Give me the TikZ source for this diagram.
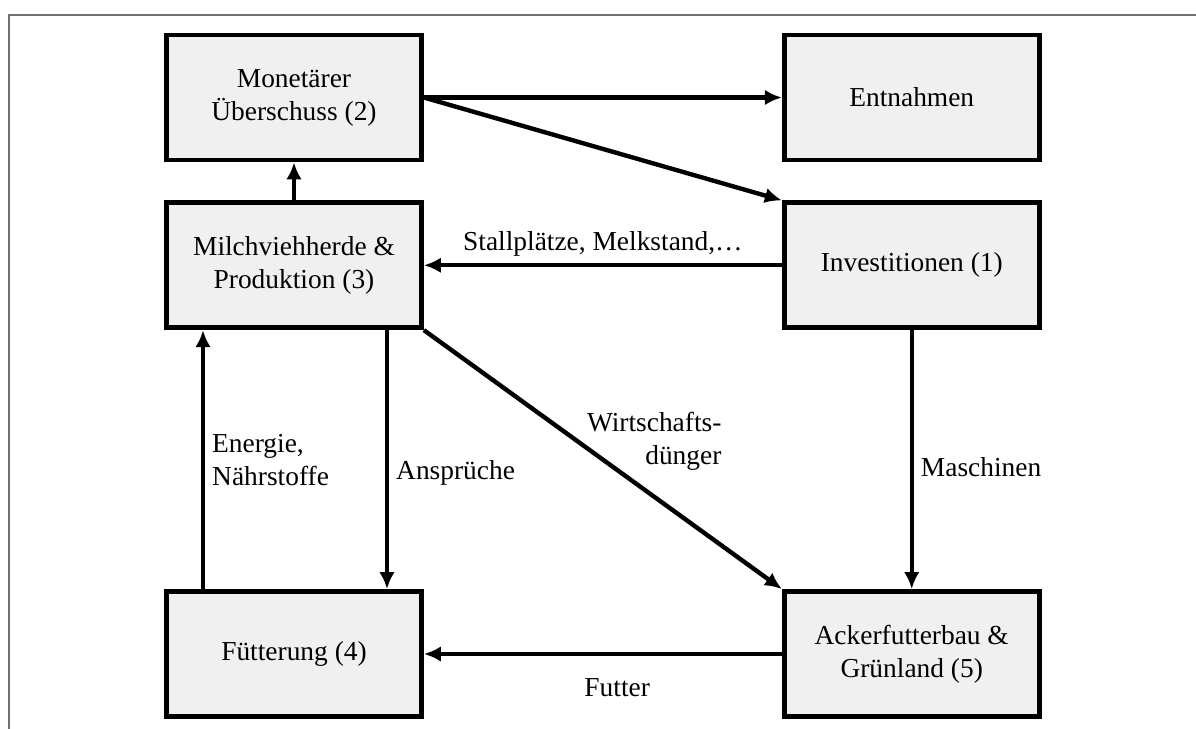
\documentclass[tikz,border=0pt]{standalone}
\usepackage{fontspec}
\setmainfont{Liberation Serif}
\usepackage{xcolor}
\usepackage{tikz}
\usetikzlibrary{arrows.meta, positioning, calc}

\definecolor{boxfill}{HTML}{F0F0F0}
\definecolor{framegray}{HTML}{707070}

\begin{document}
\begin{tikzpicture}[
        font=\fontsize{15.6}{18.8}\selectfont,
        box/.style={rectangle, draw, line width=2.7pt, fill=boxfill, minimum width=5.1cm, minimum height=2.5cm, align=center},
        flow/.style={-{Latex[length=3.4mm, width=3.1mm]}, line width=2.5pt},
        lbl/.style={inner sep=4pt}
    ]
        \useasboundingbox (0,0) rectangle (23.92,-14.58);
        \draw[framegray, line width=0.7pt] (23.92,-0.30) -- (0.18,-0.30) -- (0.18,-14.58);

        \node[box] (mon) at (5.88,-1.95) {Monetärer\\Überschuss (2)};
        \node[box, right=7.16cm of mon] (ent) {Entnahmen};
        \node[box, below=0.76cm of mon] (milch) {Milchviehherde \&\\Produktion (3)};
        \node[box, right=7.16cm of milch] (inv) {Investitionen (1)};
        \node[box, below=5.18cm of milch] (fuet) {Fütterung (4)};
        \node[box, right=7.16cm of fuet] (acker) {Ackerfutterbau \&\\Grünland (5)};

        \draw[flow] (milch) -- (mon);
        \draw[flow] (mon.east) -- (ent.west);
        \draw[flow] (mon.east) -- (inv.north west);
        \draw[flow] (inv.west) -- node[lbl, above] {Stallplätze, Melkstand,\dots} (milch.east);
        \draw[flow] ([xshift=-1.82cm]fuet.north) -- node[lbl, right, align=left] {Energie,\\Nährstoffe} ([xshift=-1.82cm]milch.south);
        \draw[flow] ([xshift=1.86cm]milch.south) -- node[lbl, right, pos=0.55] {Ansprüche} ([xshift=1.86cm]fuet.north);
        \draw[flow] (milch.south east) -- node[lbl, right, align=right, pos=0.43] {Wirtschafts-\\dünger} (acker.north west);
        \draw[flow] (inv.south) -- node[lbl, right, pos=0.53] {Maschinen} (acker.north);
        \draw[flow] (acker.west) -- node[lbl, below=0.3cm, pos=0.46] {Futter} (fuet.east);
    \end{tikzpicture}
\end{document}
